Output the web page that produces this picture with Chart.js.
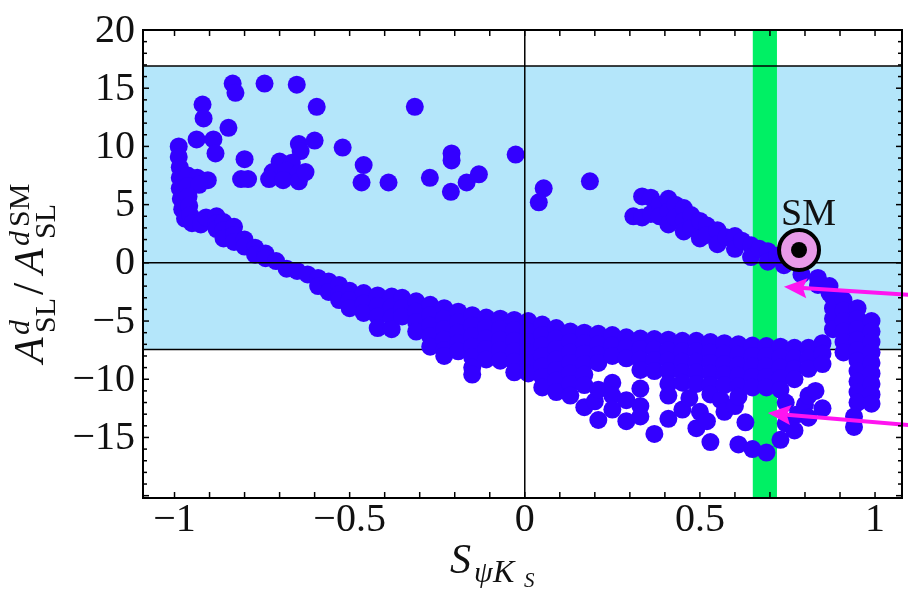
<!DOCTYPE html>
<html lang="en">
<head>
<meta charset="UTF-8">
<title>A_SL vs S_psiKs</title>
<script src="https://cdn.jsdelivr.net/npm/chart.js"></script>
<style>
  body { margin: 0; background: #fff; }
  #plot { display: block; }
</style>
</head>
<body>
<canvas id="plot" width="908" height="589"></canvas>
<script>
// isolated scan points as [S_psiKs, A_SL ratio]
const upperScatter = [
  [-0.834,15.4],[-0.826,14.6],[-0.743,15.4],[-0.651,15.3],[-0.594,13.4],
  [-0.92,13.6],[-0.917,12.4],[-0.846,11.6],[-0.937,10.6],[-0.889,10.6],[-0.883,9.4],
  [-0.80,8.9],[-0.645,10.2],[-0.60,10.5],[-0.64,9.6],[-0.52,9.9],[-0.46,8.4],[-0.466,6.9],[-0.389,6.9],
  [-0.314,13.4],[-0.209,9.4],[-0.209,8.8],[-0.271,7.3],[-0.211,6.1],[-0.166,6.9],[-0.131,7.6],[-0.026,9.3],
  [-0.81,7.2],[-0.79,7.2],[-0.70,8.7],[-0.665,8.6],[-0.72,7.8],[-0.68,7.9],[-0.645,7.7],
  [-0.73,7.2],[-0.69,7.1],[-0.645,7.0],[-0.626,7.8],
  [0.054,6.4],[0.04,5.2],[0.186,7.0]
];

// left-hand branch, [x, y] pairs
const leftBand = [
  [-0.988,10.0],[-0.988,9.1],[-0.985,8.2],[-0.985,7.3],[-0.985,6.4],[-0.982,5.5],[-0.978,4.6],[-0.97,3.8],
  [-0.962,7.5],[-0.935,7.3],[-0.905,7.1],[-0.962,6.6],[-0.93,6.7],[-0.96,5.7],[-0.958,4.9],[-0.955,4.1],[-0.95,3.4],
  [-0.925,3.3],[-0.91,3.9],[-0.88,4.0],[-0.88,3.4],[-0.88,2.9],[-0.86,3.5],[-0.86,2.8],[-0.86,2.1],
  [-0.83,3.1],[-0.83,2.4],[-0.83,1.8],[-0.80,2.0],[-0.80,1.4],[-0.77,1.3],[-0.77,0.7],[-0.74,0.8],[-0.74,0.4],
  [-0.71,0.15],[-0.68,-0.5],[-0.65,-0.7],[-0.62,-1.0],[-0.59,-1.3],[-0.59,-2.0],[-0.56,-1.6],[-0.56,-2.5],
  [-0.53,-1.9],[-0.53,-2.7],[-0.53,-3.2],[-0.50,-2.4],[-0.50,-3.2],[-0.50,-3.9]
];

// columns: [x, [y values]]
const upperArm = [
  [0.31,[4.0]],[0.335,[5.7,3.9]],[0.36,[5.6,4.2]],[0.385,[5.0,4.0]],[0.41,[5.5,4.4,3.3]],
  [0.43,[5.0,3.9]],[0.454,[4.7,3.6,2.7]],[0.475,[4.1,3.0]],[0.50,[3.6,2.1]],[0.52,[3.2,2.4]],
  [0.55,[2.8,1.6]],[0.575,[2.2]],[0.60,[2.3,1.2]],[0.62,[1.9]],[0.646,[1.5,0.5]],[0.67,[1.2]],
  [0.694,[1.0,0.1]],[0.72,[0.6]],[0.74,[0.7,-0.2]],[0.765,[0.2]],[0.79,[0.0,-1.0]],
  [0.837,[-1.3,-1.9]],[0.87,[-2.0,-2.6]]
];

const lowerCloud = [
  [-0.46,[-2.6,-3.5,-4.3]],
  [-0.42,[-2.8,-3.7,-4.6,-5.6]],
  [-0.38,[-2.9,-3.8,-4.7,-5.7]],
  [-0.35,[-3.0,-3.9,-4.6]],
  [-0.31,[-3.3,-4.2,-5.1,-5.9]],
  [-0.27,[-3.6,-4.5,-5.4,-6.3,-7.2]],
  [-0.23,[-3.9,-4.8,-5.7,-6.6,-7.5,-8.0]],
  [-0.19,[-4.2,-5.1,-6.0,-6.9,-7.6]],
  [-0.15,[-4.5,-5.4,-6.3,-7.2,-8.1,-9.0,-9.6]],
  [-0.11,[-4.7,-5.6,-6.5,-7.4,-8.3]],
  [-0.07,[-4.8,-5.7,-6.6,-7.5,-8.4]],
  [-0.03,[-4.9,-5.8,-6.7,-7.6,-8.5,-9.4]],
  [0.01,[-5.0,-5.9,-6.8,-7.7,-8.6,-9.5]],
  [0.05,[-5.3,-6.2,-7.1,-8.0,-8.9,-9.8,-10.7]],
  [0.09,[-5.6,-6.5,-7.4,-8.3,-9.2,-10.1,-11.1]],
  [0.13,[-5.9,-6.8,-7.7,-8.6,-9.5,-10.4,-11.4]],
  [0.17,[-6.0,-6.9,-7.8,-8.7,-9.6,-10.5,-12.4]],
  [0.20,[-11.9]],
  [0.21,[-6.1,-7.0,-7.9,-8.6,-10.9,-13.5]],
  [0.25,[-6.2,-7.1,-8.0,-10.3,-11.4,-12.6]],
  [0.29,[-6.4,-7.3,-8.2,-11.8,-13.6]],
  [0.33,[-6.5,-7.4,-8.3,-9.2,-10.8,-12.3,-13.2]],
  [0.37,[-6.55,-7.45,-8.35,-9.3,-14.7]],
  [0.41,[-6.6,-7.5,-8.4,-9.3,-10.4,-11.4,-13.4]],
  [0.45,[-6.7,-7.6,-8.5,-9.4,-10.3,-12.6]],
  [0.47,[-11.6]],
  [0.49,[-6.7,-7.6,-8.5,-9.4,-10.4,-14.2]],
  [0.50,[-12.8]],
  [0.52,[-13.6]],
  [0.53,[-6.8,-7.7,-8.6,-9.5,-10.5,-11.3,-15.4]],
  [0.56,[-11.8]],
  [0.57,[-6.9,-7.8,-8.7,-9.6,-10.5,-12.8]],
  [0.60,[-12.3]],
  [0.61,[-7.0,-7.9,-8.8,-9.7,-10.6,-11.5,-15.6]],
  [0.63,[-13.7]],
  [0.65,[-7.1,-8.0,-8.9,-9.8,-10.7,-16.0]],
  [0.69,[-7.15,-8.0,-8.9,-9.8,-10.7,-16.3]],
  [0.73,[-7.2,-8.1,-9.0,-9.9,-10.9,-15.2]],
  [0.745,[-12.0,-13.8]],
  [0.77,[-7.3,-8.2,-9.1,-10.0,-14.4]],
  [0.78,[-13.0]],
  [0.80,[-12.2]],
  [0.81,[-7.3,-8.2,-9.1,-11.4,-13.3]],
  [0.83,[-11.0]],
  [0.85,[-6.9,-7.8,-8.7,-12.5]]
];

const rightBand = [
  [0.88,[-3.0,-3.9,-4.8,-5.7]],
  [0.91,[-3.2,-4.1,-5.0,-5.9,-6.8,-7.7]],
  [0.95,[-3.9,-4.8,-5.7,-6.6,-7.5,-8.4,-9.3,-10.2,-11.1,-12.0]],
  [0.99,[-5.0,-5.9,-6.8,-7.7,-8.6,-9.5,-10.4,-11.3,-12.1]],
  [0.94,[-13.2,-14.1]]
];

const smPoint = [[0.783, 1.1]];
const expBandY = [-7.45, 16.9];   // horizontal experimental band
const expBandX = [0.651, 0.72];   // vertical experimental band
const arrowTips = [[0.74, -2.05], [0.694, -12.9]];
const arrowTails = [[1.12, -2.8], [1.12, -14.0]];
const xTickLabels = [-1, -0.5, 0, 0.5, 1];
const yTickLabels = [-15, -10, -5, 0, 5, 10, 15, 20];

const pairs = arr => arr.map(p => ({ x: p[0], y: p[1] }));
const cols = arr => arr.flatMap(c => c[1].map(y => ({ x: c[0], y: y })));

const scanData = [].concat(pairs(upperScatter), pairs(leftBand), cols(upperArm), cols(lowerCloud), cols(rightBand));

const SERIF = '"Liberation Serif", "DejaVu Serif", serif';
const fmt = v => (v < 0 ? '\u2212' : '') + Math.abs(v);

function hline(ctx, x1, y1, x2, y2) {
    ctx.beginPath();
    ctx.moveTo(x1, y1);
    ctx.lineTo(x2, y2);
    ctx.stroke();
}

const decorations = {
    id: 'decorations',
    beforeDatasetsDraw(chart) {
        const { ctx, chartArea: a, scales: { x, y } } = chart;
        ctx.save();
        // light blue band
        const yTop = y.getPixelForValue(expBandY[1]);
        const yBot = y.getPixelForValue(expBandY[0]);
        ctx.fillStyle = '#b4e6fa';
        ctx.fillRect(a.left, yTop, a.right - a.left, yBot - yTop);
        // green band
        const xl = x.getPixelForValue(expBandX[0]);
        const xr = x.getPixelForValue(expBandX[1]);
        ctx.fillStyle = '#00f064';
        ctx.fillRect(xl, a.top, xr - xl, a.bottom - a.top);
        ctx.strokeStyle = '#000';
        ctx.lineWidth = 1.5;
        hline(ctx, a.left, yTop, a.right, yTop);
        hline(ctx, a.left, yBot, a.right, yBot);
        ctx.restore();
    },
    afterDatasetDraw(chart, args) {
        if (args.index !== 0) return;
        const { ctx, chartArea: a, scales: { x, y } } = chart;
        ctx.save();
        ctx.strokeStyle = '#000';
        ctx.lineWidth = 1.5;
        const x0 = x.getPixelForValue(0), y0 = y.getPixelForValue(0);
        hline(ctx, x0, a.top, x0, a.bottom);
        hline(ctx, a.left, y0, a.right, y0);
        ctx.restore();
    },
    afterDraw(chart) {
        const { ctx, chartArea: a, scales: { x, y } } = chart;
        ctx.save();
        // arrows
        ctx.strokeStyle = '#ff14f0';
        ctx.fillStyle = '#ff14f0';
        ctx.lineWidth = 4;
        arrowTips.forEach((tip, i) => {
            const tx = x.getPixelForValue(tip[0]), ty = y.getPixelForValue(tip[1]);
            const sx = x.getPixelForValue(arrowTails[i][0]), sy = y.getPixelForValue(arrowTails[i][1]);
            const ang = Math.atan2(ty - sy, tx - sx);
            const hl = 23, hw = 10;
            const bx = tx - hl * Math.cos(ang), by = ty - hl * Math.sin(ang);
            hline(ctx, sx, sy, bx + 4 * Math.cos(ang), by + 4 * Math.sin(ang));
            ctx.beginPath();
            ctx.moveTo(tx, ty);
            ctx.lineTo(bx + hw * Math.sin(ang), by - hw * Math.cos(ang));
            ctx.lineTo(bx + 4 * Math.cos(ang), by + 4 * Math.sin(ang));
            ctx.lineTo(bx - hw * Math.sin(ang), by + hw * Math.cos(ang));
            ctx.closePath();
            ctx.fill();
        });

        // SM label
        const smx = x.getPixelForValue(smPoint[0][0]), smy = y.getPixelForValue(smPoint[0][1]);
        ctx.fillStyle = '#111';
        ctx.font = '38px ' + SERIF;
        ctx.textAlign = 'left';
        ctx.textBaseline = 'alphabetic';
        ctx.fillText('SM', smx - 18, smy - 25);

        // frame
        ctx.strokeStyle = '#000';
        ctx.lineWidth = 2;
        ctx.strokeRect(a.left, a.top, a.right - a.left, a.bottom - a.top);

        // inward ticks
        ctx.lineWidth = 1.5;
        for (let i = -10; i <= 10; i++) {
            const px = x.getPixelForValue(i / 10);
            hline(ctx, px, a.bottom, px, a.bottom - 6);
            hline(ctx, px, a.top, px, a.top + 6);
        }
        for (let v = -20; v <= 20; v++) {
            const py = y.getPixelForValue(v);
            const len = v % 5 === 0 ? 6 : 4;
            hline(ctx, a.left, py, a.left + len, py);
            hline(ctx, a.right, py, a.right - len, py);
        }

        // tick labels
        ctx.fillStyle = '#111';
        ctx.font = '40px ' + SERIF;
        ctx.textAlign = 'center';
        ctx.textBaseline = 'alphabetic';
        xTickLabels.forEach(v => ctx.fillText(fmt(v), x.getPixelForValue(v), 531));
        ctx.textAlign = 'right';
        ctx.textBaseline = 'middle';
        yTickLabels.forEach(v => ctx.fillText(fmt(v), 135, y.getPixelForValue(v) + 1));

        // x axis title  S_{psi K_S}
        ctx.textAlign = 'left';
        ctx.textBaseline = 'alphabetic';
        ctx.font = 'italic 42px ' + SERIF;
        ctx.fillText('S', 450, 573);
        ctx.font = 'italic 30px ' + SERIF;
        ctx.fillText('\u03c8', 474, 582);
        ctx.font = 'italic 32px ' + SERIF;
        ctx.fillText('K', 493, 582);
        ctx.font = 'italic 21px ' + SERIF;
        ctx.fillText('S', 524, 587);

        // y axis title  A^d_SL / A^dSM_SL
        ctx.translate(43, 363);
        ctx.rotate(-Math.PI / 2);
        ctx.font = 'italic 42px ' + SERIF;
        ctx.fillText('A', 0, 0);
        ctx.fillText('A', 89, 0);
        ctx.font = '44px ' + SERIF;
        ctx.fillText('/', 68, 0);
        ctx.font = 'italic 30px ' + SERIF;
        ctx.fillText('d', 28, -14);
        ctx.fillText('d', 117, -14);
        ctx.font = '30px ' + SERIF;
        ctx.fillText('SL', 30, 12);
        ctx.fillText('SL', 124, 12);
        ctx.fillText('SM', 136, -14);
        ctx.restore();
    }
};

new Chart(document.getElementById('plot'), {
    type: 'scatter',
    data: {
        datasets: [
            {
                data: scanData,
                backgroundColor: '#3300ff',
                borderColor: '#3300ff',
                borderWidth: 0,
                pointRadius: 9,
                order: 3
            },
            {
                data: pairs(smPoint),
                backgroundColor: '#e89ae8',
                borderColor: '#000',
                borderWidth: 4,
                pointRadius: 20,
                order: 2
            },
            {
                data: pairs(smPoint),
                backgroundColor: '#000',
                borderColor: '#000',
                borderWidth: 0,
                pointRadius: 8,
                order: 1
            }
        ]
    },
    options: {
        responsive: false,
        animation: false,
        events: [],
        layout: { autoPadding: false, padding: { left: 143, top: 30, right: 6, bottom: 91 } },
        plugins: { legend: { display: false }, tooltip: { enabled: false } },
        scales: {
            x: { type: 'linear', min: -1.09, max: 1.077, display: false },
            y: { type: 'linear', min: -20.2, max: 20, display: false }
        }
    },
    plugins: [decorations]
});
</script>
</body>
</html>
